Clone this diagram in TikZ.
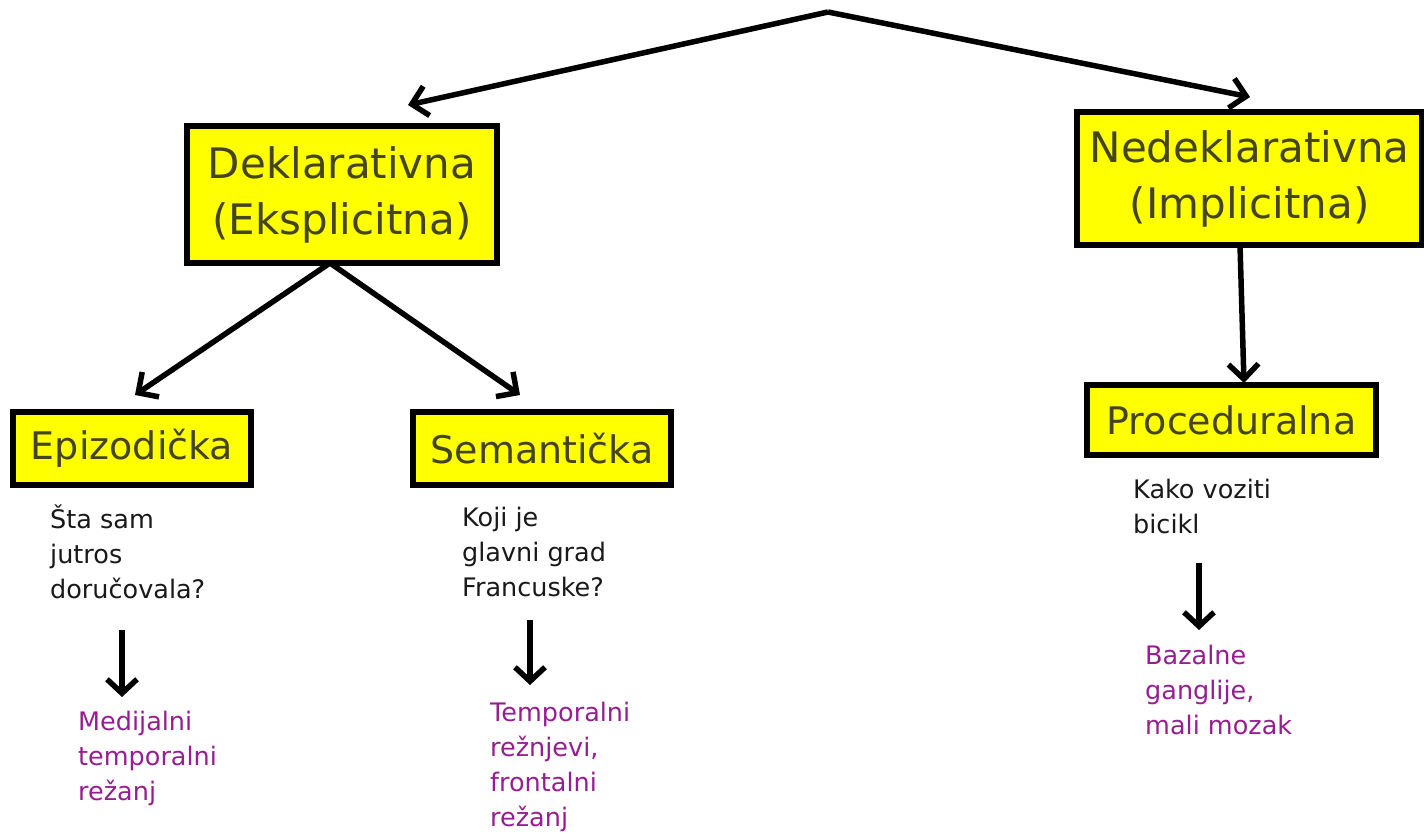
\documentclass[tikz,border=0pt]{standalone}
\usepackage{fontspec}
\setmainfont{DejaVu Sans}
\usetikzlibrary{arrows.meta}
\definecolor{boxyellow}{RGB}{255,255,0}
\definecolor{boxtext}{RGB}{68,68,30}
\definecolor{purp}{RGB}{150,30,145}
\definecolor{qtext}{RGB}{25,25,25}
\begin{document}
\begin{tikzpicture}[x=1pt,y=-1pt,
  ybox/.style={draw=black,line width=5.5pt,fill=boxyellow,text=boxtext,
    align=center,inner sep=0pt},
  bigtxt/.style={font=\fontsize{42}{56}\selectfont},
  midtxt/.style={font=\fontsize{38}{46}\selectfont},
  qtxt/.style={anchor=north west,inner sep=0pt,align=left,text=qtext,
    font=\fontsize{25.5}{35}\selectfont},
  ptxt/.style={anchor=north west,inner sep=0pt,align=left,text=purp,
    font=\fontsize{25.5}{35}\selectfont},
  arr/.style={line width=5.5pt,-{Straight Barb[length=15pt,width=30pt,line width=5.5pt]}},
  sarr/.style={line width=5.5pt,-{Straight Barb[length=14pt,width=30pt,line width=5.5pt]}}
]
\useasboundingbox (0,0) rectangle (1424,833);
\fill[white] (0,0) rectangle (1424,833);

\node[ybox,bigtxt,minimum width=310pt,minimum height=137pt] (dek) at (342,194.5) {Deklarativna\\(Eksplicitna)};
\node[ybox,bigtxt,minimum width=345pt,minimum height=133pt] (ned) at (1249.5,178.5) {Nedeklarativna\\(Implicitna)};
\node[ybox,midtxt,minimum width=238pt,minimum height=73pt] (epi) at (132,448.5) {Epizodička};
\node[ybox,midtxt,minimum width=258pt,minimum height=73pt] (sem) at (542,448.5) {Semantička};
\node[ybox,midtxt,minimum width=289pt,minimum height=70pt] (pro) at (1231.5,420) {Proceduralna};

\coordinate (apex) at (828,12);
\coordinate (dekin) at (408,105);
\coordinate (nedin) at (1250,97);
\coordinate (dekout) at (330,263);
\coordinate (epiin) at (135,395);
\coordinate (semin) at (520,395);
\coordinate (nedout) at (1240,245);
\coordinate (proin) at (1244,383);

\draw[arr,line join=round] (apex) -- (dekin);
\draw[arr] (apex) -- (nedin);
\draw[arr] (dekout) -- (epiin);
\draw[arr] (dekout) -- (semin);
\draw[arr] (nedout) -- (proin);

\node[qtxt] (q1) at (50,505) {Šta sam\\jutros\\doručovala?};
\node[qtxt] (q2) at (462,507) {Koji je\\glavni grad\\Francuske?};
\node[qtxt] (q3) at (1133,479) {Kako voziti\\bicikl};

\coordinate (a1s) at (122,630);
\coordinate (a1e) at (122,697);
\coordinate (a2s) at (530,620);
\coordinate (a2e) at (530,685);
\coordinate (a3s) at (1199,563);
\coordinate (a3e) at (1199,630);
\draw[sarr] (a1s) -- (a1e);
\draw[sarr] (a2s) -- (a2e);
\draw[sarr] (a3s) -- (a3e);

\node[ptxt] (p1) at (78,711) {Medijalni\\temporalni\\režanj};
\node[ptxt] (p2) at (490,702) {Temporalni\\režnjevi,\\frontalni\\režanj};
\node[ptxt] (p3) at (1145,645) {Bazalne\\ganglije,\\mali mozak};
\end{tikzpicture}
\end{document}
